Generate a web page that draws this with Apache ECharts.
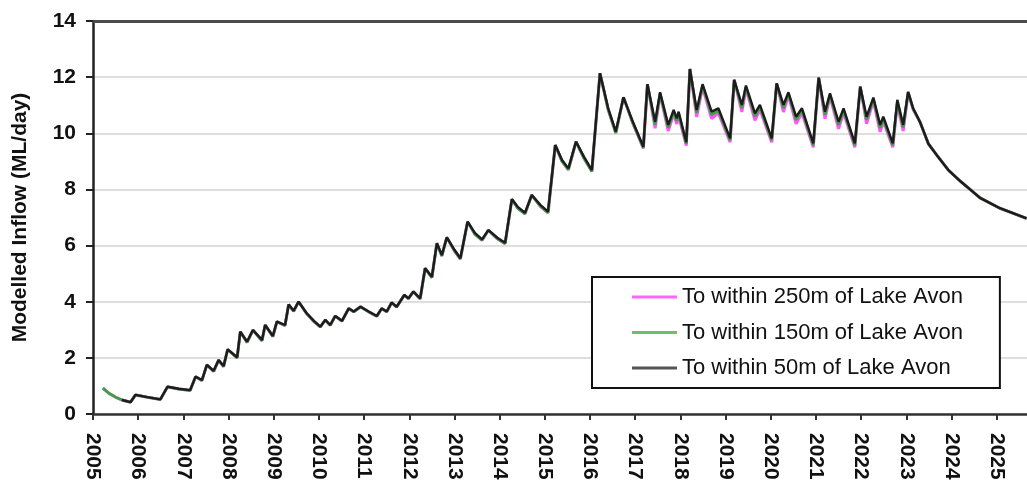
<!DOCTYPE html>
<html>
<head>
<meta charset="utf-8">
<script src="https://cdn.jsdelivr.net/npm/echarts@6/dist/echarts.min.js"></script>
<style>
html,body{margin:0;padding:0;background:#fff;}
#chart{width:1027px;height:486px;}
</style>
</head>
<body>
<div id="chart"></div>
<script>
// Decimal-year positions of the sampled points
const years = [
  2005.22, 2005.35, 2005.50, 2005.64, 2005.83, 2005.94, 2006.20, 2006.49, 2006.65, 2006.90,
  2007.15, 2007.27, 2007.41, 2007.52, 2007.67, 2007.78, 2007.89, 2007.98, 2008.19, 2008.26,
  2008.41, 2008.54, 2008.74, 2008.81, 2008.98, 2009.07, 2009.25, 2009.33, 2009.44, 2009.55,
  2009.73, 2009.90, 2010.03, 2010.14, 2010.25, 2010.36, 2010.51, 2010.66, 2010.77, 2010.92,
  2011.10, 2011.28, 2011.39, 2011.50, 2011.61, 2011.72, 2011.89, 2011.98, 2012.09, 2012.24,
  2012.35, 2012.50, 2012.61, 2012.72, 2012.83, 2013.00, 2013.13, 2013.29, 2013.45, 2013.61,
  2013.75, 2013.95, 2014.12, 2014.27, 2014.40, 2014.56, 2014.71, 2014.90, 2015.07, 2015.23,
  2015.38, 2015.52, 2015.69, 2015.87, 2016.04, 2016.22, 2016.40, 2016.57, 2016.74, 2016.95,
  2017.18, 2017.27, 2017.44, 2017.55, 2017.73, 2017.85, 2017.92, 2017.96, 2018.13, 2018.21,
  2018.36, 2018.49, 2018.69, 2018.84, 2019.10, 2019.19, 2019.36, 2019.45, 2019.65, 2019.76,
  2020.02, 2020.13, 2020.28, 2020.39, 2020.56, 2020.69, 2020.94, 2021.06, 2021.20, 2021.31,
  2021.50, 2021.61, 2021.86, 2021.98, 2022.12, 2022.27, 2022.42, 2022.49, 2022.70, 2022.80,
  2022.93, 2023.04, 2023.15, 2023.30, 2023.49, 2023.67, 2023.93, 2024.19, 2024.41, 2024.63,
  2025.07, 2025.66
];

// To within 250m of Lake Avon (ML/day)
const within250 = [
  0.92, 0.74, 0.60, 0.50, 0.42, 0.68, 0.60, 0.52, 0.97, 0.89,
  0.84, 1.33, 1.19, 1.75, 1.52, 1.92, 1.69, 2.30, 2.00, 2.93,
  2.55, 2.99, 2.61, 3.17, 2.76, 3.29, 3.15, 3.90, 3.66, 4.00,
  3.57, 3.28, 3.10, 3.35, 3.16, 3.49, 3.31, 3.76, 3.64, 3.82,
  3.64, 3.48, 3.76, 3.64, 3.97, 3.81, 4.24, 4.11, 4.36, 4.10,
  5.19, 4.86, 6.08, 5.63, 6.29, 5.81, 5.52, 6.85, 6.41, 6.19,
  6.55, 6.24, 6.07, 7.65, 7.33, 7.13, 7.80, 7.40, 7.17, 9.58,
  9.00, 8.70, 9.70, 9.10, 8.64, 12.14, 10.85, 10.01, 11.28, 10.35,
  9.46, 11.75, 10.18, 11.38, 10.08, 10.68, 10.33, 10.62, 9.56, 12.29,
  10.58, 11.64, 10.52, 10.72, 9.68, 11.90, 10.76, 11.58, 10.46, 10.84,
  9.68, 11.78, 10.76, 11.34, 10.34, 10.72, 9.50, 11.98, 10.52, 11.30,
  10.16, 10.72, 9.50, 11.66, 10.34, 11.15, 10.05, 10.42, 9.50, 11.04,
  10.08, 11.44, 10.85, 10.41, 9.62, 9.23, 8.69, 8.30, 8.00, 7.70,
  7.33, 6.97
];

// To within 150m of Lake Avon (ML/day)
const within150 = [
  0.92, 0.74, 0.60, 0.50, 0.42, 0.68, 0.60, 0.52, 0.97, 0.89,
  0.84, 1.33, 1.19, 1.75, 1.52, 1.92, 1.69, 2.30, 2.00, 2.93,
  2.55, 2.99, 2.61, 3.17, 2.76, 3.29, 3.15, 3.90, 3.66, 4.00,
  3.57, 3.28, 3.10, 3.35, 3.16, 3.49, 3.31, 3.76, 3.64, 3.82,
  3.64, 3.48, 3.76, 3.64, 3.97, 3.81, 4.24, 4.11, 4.36, 4.10,
  5.19, 4.86, 6.08, 5.63, 6.29, 5.81, 5.52, 6.85, 6.41, 6.19,
  6.55, 6.24, 6.07, 7.65, 7.33, 7.13, 7.80, 7.40, 7.17, 9.58,
  9.00, 8.70, 9.70, 9.10, 8.64, 12.14, 10.85, 10.01, 11.28, 10.35,
  9.48, 11.75, 10.30, 11.42, 10.20, 10.76, 10.44, 10.70, 9.62, 12.29,
  10.72, 11.70, 10.66, 10.81, 9.75, 11.90, 10.90, 11.65, 10.60, 10.93,
  9.75, 11.78, 10.90, 11.41, 10.48, 10.81, 9.57, 11.98, 10.66, 11.37,
  10.30, 10.81, 9.57, 11.66, 10.48, 11.22, 10.19, 10.51, 9.57, 11.12,
  10.20, 11.46, 10.87, 10.41, 9.62, 9.23, 8.69, 8.30, 8.00, 7.70,
  7.33, 6.97
];

// To within 50m of Lake Avon (ML/day)
const within50 = [
  null, null, null, 0.50, 0.42, 0.68, 0.60, 0.52, 0.97, 0.90,
  0.85, 1.33, 1.21, 1.75, 1.54, 1.92, 1.71, 2.30, 2.02, 2.93,
  2.58, 2.99, 2.64, 3.17, 2.78, 3.29, 3.17, 3.90, 3.68, 4.00,
  3.59, 3.30, 3.11, 3.35, 3.17, 3.49, 3.32, 3.76, 3.65, 3.82,
  3.65, 3.49, 3.76, 3.65, 3.97, 3.82, 4.24, 4.12, 4.36, 4.12,
  5.19, 4.89, 6.08, 5.66, 6.29, 5.85, 5.55, 6.85, 6.45, 6.22,
  6.55, 6.28, 6.10, 7.65, 7.38, 7.17, 7.80, 7.45, 7.21, 9.58,
  9.05, 8.75, 9.70, 9.15, 8.69, 12.14, 10.90, 10.06, 11.28, 10.40,
  9.52, 11.75, 10.41, 11.46, 10.30, 10.83, 10.53, 10.77, 9.68, 12.29,
  10.83, 11.75, 10.77, 10.89, 9.82, 11.90, 11.01, 11.70, 10.71, 11.01,
  9.82, 11.78, 11.01, 11.46, 10.59, 10.89, 9.64, 11.98, 10.77, 11.42,
  10.41, 10.89, 9.64, 11.66, 10.59, 11.27, 10.30, 10.59, 9.64, 11.19,
  10.30, 11.48, 10.89, 10.41, 9.62, 9.23, 8.69, 8.30, 8.00, 7.70,
  7.33, 6.97
];

const seriesNames = ['To within 250m of Lake Avon', 'To within 150m of Lake Avon', 'To within 50m of Lake Avon'];
const yAxisTitle = 'Modelled Inflow (ML/day)';
const yTop = 14;

const FONT = '"Liberation Sans", Arial, sans-serif';
const toPairs = arr => years.map((x, i) => [x, arr[i]]);

const chart = echarts.init(document.getElementById('chart'), null, {renderer: 'canvas'});
chart.setOption({
  animation: false,
  backgroundColor: '#ffffff',
  grid: {left: 93, right: 0, top: 21, bottom: 72, containLabel: false},
  legend: {
    orient: 'vertical',
    left: 592, top: 277,
    padding: [8, 37, 8, 40],
    backgroundColor: '#ffffff',
    borderColor: '#111',
    borderWidth: 2,
    borderRadius: 0,
    icon: 'rect',
    itemWidth: 45, itemHeight: 3,
    itemGap: 11.5,
    textStyle: {fontFamily: FONT, fontSize: 22, color: '#111', lineHeight: 24},
    data: seriesNames
  },
  xAxis: {
    type: 'value',
    min: 2005, max: 2025.67, interval: 1,
    axisLine: {show: true, onZero: false, lineStyle: {color: '#333', width: 2.5}},
    axisTick: {show: true, inside: false, length: 6, lineStyle: {color: '#333', width: 2}},
    axisLabel: {
      rotate: -90, margin: 19, color: '#111', fontFamily: FONT, fontSize: 21, fontWeight: 'bold',
      showMaxLabel: false,
      formatter: v => (Math.abs(v - Math.round(v)) < 1e-6 ? String(Math.round(v)) : '')
    },
    splitLine: {show: false}
  },
  yAxis: {
    type: 'value',
    min: 0, max: yTop, interval: 2,
    name: yAxisTitle,
    nameLocation: 'middle',
    nameGap: 62,
    nameRotate: 90,
    nameTextStyle: {fontFamily: FONT, fontSize: 21, fontWeight: 'bold', color: '#111'},
    axisLine: {show: true, lineStyle: {color: '#222', width: 2.5}},
    axisTick: {show: true, inside: false, length: 7, lineStyle: {color: '#222', width: 2}},
    axisLabel: {margin: 17, color: '#111', fontFamily: FONT, fontSize: 21, fontWeight: 'bold'},
    splitLine: {show: true, lineStyle: {color: '#d4d4d4', width: 1.5}}
  },
  series: [
    {
      name: seriesNames[0], type: 'line', data: toPairs(within250),
      showSymbol: false, symbol: 'none', smooth: false,
      lineStyle: {color: '#ff55ff', width: 3}, itemStyle: {color: '#ff66ff'}, z: 2
    },
    {
      name: seriesNames[1], type: 'line', data: toPairs(within150),
      showSymbol: false, symbol: 'none', smooth: false,
      lineStyle: {color: '#3fa03f', width: 2.8}, itemStyle: {color: '#6cbf6c'}, z: 3
    },
    {
      name: seriesNames[2], type: 'line', data: toPairs(within50),
      showSymbol: false, symbol: 'none', smooth: false, connectNulls: false,
      lineStyle: {color: '#1c1c1c', width: 2.4}, itemStyle: {color: '#555555'}, z: 4,
      markLine: {
        silent: true, symbol: 'none', animation: false,
        label: {show: false},
        lineStyle: {color: '#4a4a4a', width: 3, type: 'solid'},
        data: [{yAxis: yTop}]
      }
    }
  ]
});
</script>
</body>
</html>
